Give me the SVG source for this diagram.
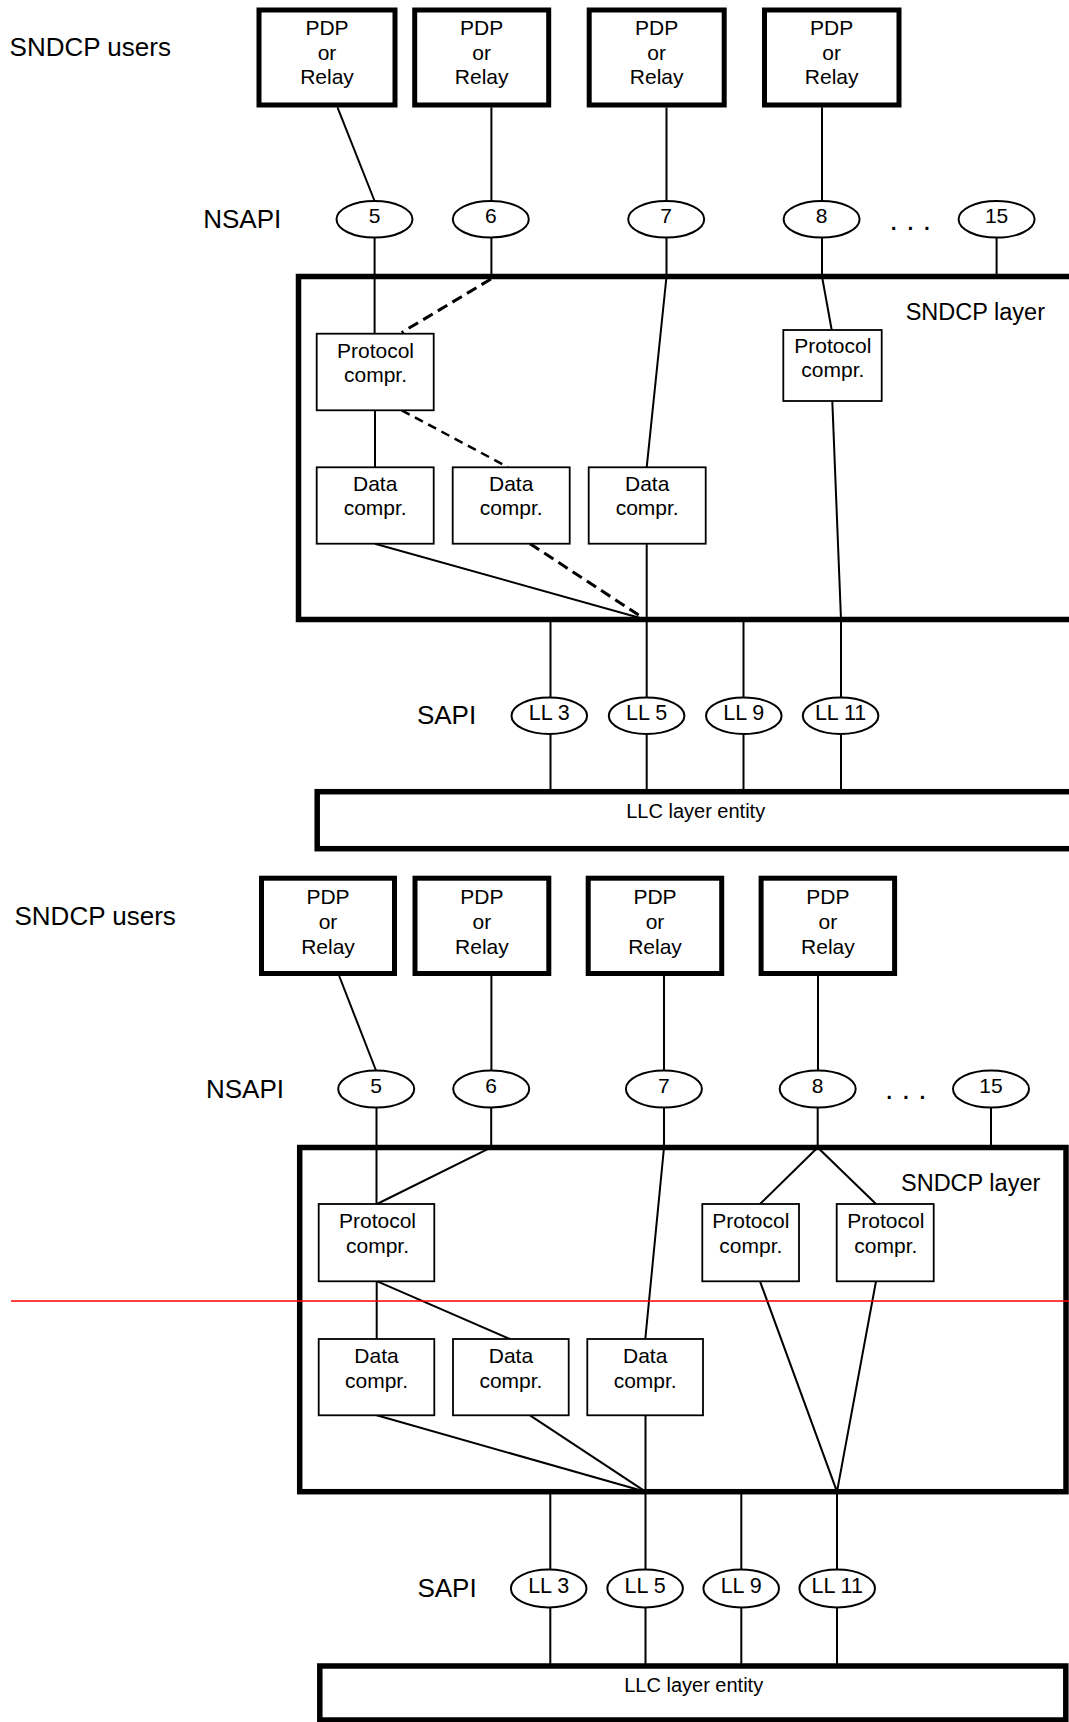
<svg xmlns="http://www.w3.org/2000/svg" width="1069" height="1722" viewBox="0 0 1069 1722">
<style>
.layer{fill:#fff;stroke:#000;stroke-width:5.5}
.pdp{fill:#fff;stroke:#000;stroke-width:5}
.box{fill:#fff;stroke:#000;stroke-width:1.8}
.ell{fill:#fff;stroke:#000;stroke-width:2}
.ln{fill:none;stroke:#000;stroke-width:2}
.dk{fill:none;stroke:#000;stroke-width:3;stroke-dasharray:11 6}
.dt{fill:none;stroke:#000;stroke-width:2.5;stroke-dasharray:9 6}
.t{font-family:"Liberation Sans",Arial,sans-serif;fill:#000}
.lab{font-size:26px}
.s21{font-size:21px;text-anchor:middle}
.s20{font-size:20px;text-anchor:middle}
.ll{font-size:21.5px;text-anchor:middle}
.dots{font-size:30px}
</style>
<rect width="1069" height="1722" fill="#fff"/>

<!-- ================= Diagram 1 ================= -->
<g id="sndcp-layer-1">
<rect class="layer" x="298.5" y="276.5" width="800" height="343"/>
<text class="t" x="905.7" y="320" font-size="23.5px">SNDCP layer</text>
</g>
<g id="llc-1">
<rect class="layer" x="317.2" y="791.7" width="800" height="57"/>
<text class="t s20" x="695.7" y="818.3">LLC layer entity</text>
</g>

<g id="connectors-1">
<line class="ln" x1="337.5" y1="107.3" x2="374.6" y2="201"/>
<line class="ln" x1="491.4" y1="107.3" x2="491.4" y2="201"/>
<line class="ln" x1="666.5" y1="107.3" x2="666.5" y2="201"/>
<line class="ln" x1="822" y1="107.3" x2="822" y2="201"/>
<line class="ln" x1="374.6" y1="237.6" x2="374.6" y2="333.7"/>
<line class="ln" x1="491.4" y1="237.6" x2="491.4" y2="276.5"/>
<polyline class="ln" points="666.5,237.6 666.5,276.5 646.7,467.3"/>
<polyline class="ln" points="822,237.6 822,276.5 831.7,330"/>
<line class="ln" x1="996.6" y1="237.6" x2="996.6" y2="276.5"/>
<line class="dk" x1="491" y1="279" x2="401.7" y2="332.5"/>
<line class="ln" x1="375" y1="410.3" x2="375" y2="467.3"/>
<line class="dt" x1="401.7" y1="410.3" x2="508.3" y2="467.3"/>
<line class="ln" x1="375" y1="543.7" x2="645.5" y2="619.5"/>
<line class="dk" x1="530" y1="543.7" x2="645.5" y2="619.5"/>
<line class="ln" x1="646.7" y1="543.7" x2="646.7" y2="697"/>
<polyline class="ln" points="832.3,401 841,619.5 841,697"/>
<line class="ln" x1="550.5" y1="619.5" x2="550.5" y2="697"/>
<line class="ln" x1="743.5" y1="619.5" x2="743.5" y2="697"/>
<line class="ln" x1="550.5" y1="734.5" x2="550.5" y2="791.7"/>
<line class="ln" x1="646.7" y1="734.5" x2="646.7" y2="791.7"/>
<line class="ln" x1="743.5" y1="734.5" x2="743.5" y2="791.7"/>
<line class="ln" x1="841" y1="734.5" x2="841" y2="791.7"/>
</g>

<g id="labels-1">
<text class="t lab" x="9.6" y="55.7">SNDCP users</text>
<text class="t lab" x="203.2" y="227.7">NSAPI</text>
<text class="t lab" x="416.9" y="724">SAPI</text>
<text class="t dots" x="889.5" y="230">. . .</text>
</g>

<g id="pdp1-1"><rect class="pdp" x="259" y="10" width="136" height="95"/>
<text class="t s21" x="327" y="35">PDP</text><text class="t s21" x="327" y="59.5">or</text><text class="t s21" x="327" y="84">Relay</text></g>
<g id="pdp2-1"><rect class="pdp" x="414.7" y="10" width="134" height="95"/>
<text class="t s21" x="481.7" y="35">PDP</text><text class="t s21" x="481.7" y="59.5">or</text><text class="t s21" x="481.7" y="84">Relay</text></g>
<g id="pdp3-1"><rect class="pdp" x="589.2" y="10" width="135" height="95"/>
<text class="t s21" x="656.7" y="35">PDP</text><text class="t s21" x="656.7" y="59.5">or</text><text class="t s21" x="656.7" y="84">Relay</text></g>
<g id="pdp4-1"><rect class="pdp" x="764.5" y="10" width="134.5" height="95"/>
<text class="t s21" x="831.7" y="35">PDP</text><text class="t s21" x="831.7" y="59.5">or</text><text class="t s21" x="831.7" y="84">Relay</text></g>

<g id="nsapi5-1"><ellipse class="ell" cx="374.5" cy="219.3" rx="38" ry="18.3"/><text class="t s21" x="374.5" y="223">5</text></g>
<g id="nsapi6-1"><ellipse class="ell" cx="490.8" cy="219.3" rx="38" ry="18.3"/><text class="t s21" x="490.8" y="223">6</text></g>
<g id="nsapi7-1"><ellipse class="ell" cx="666.2" cy="219.3" rx="38" ry="18.3"/><text class="t s21" x="666.2" y="223">7</text></g>
<g id="nsapi8-1"><ellipse class="ell" cx="821.6" cy="219.3" rx="38" ry="18.3"/><text class="t s21" x="821.6" y="223">8</text></g>
<g id="nsapi15-1"><ellipse class="ell" cx="996.6" cy="219.3" rx="38" ry="18.3"/><text class="t s21" x="996.6" y="223">15</text></g>

<g id="proto1-1"><rect class="box" x="316.7" y="333.7" width="117" height="76.6"/>
<text class="t s21" x="375.5" y="358.3">Protocol</text><text class="t s21" x="375.5" y="381.7">compr.</text></g>
<g id="proto2-1"><rect class="box" x="783.3" y="330" width="98.4" height="71"/>
<text class="t s21" x="832.8" y="353.3">Protocol</text><text class="t s21" x="832.8" y="377.3">compr.</text></g>

<g id="data1-1"><rect class="box" x="316.7" y="467.3" width="117" height="76.4"/>
<text class="t s21" x="375.2" y="490.7">Data</text><text class="t s21" x="375.2" y="515">compr.</text></g>
<g id="data2-1"><rect class="box" x="452.7" y="467.3" width="117" height="76.4"/>
<text class="t s21" x="511.2" y="490.7">Data</text><text class="t s21" x="511.2" y="515">compr.</text></g>
<g id="data3-1"><rect class="box" x="588.7" y="467.3" width="117" height="76.4"/>
<text class="t s21" x="647.2" y="490.7">Data</text><text class="t s21" x="647.2" y="515">compr.</text></g>

<g id="ll3-1"><ellipse class="ell" cx="549.3" cy="715.8" rx="37.8" ry="18.2"/><text class="t ll" x="549.3" y="720">LL 3</text></g>
<g id="ll5-1"><ellipse class="ell" cx="646.6" cy="715.8" rx="37.8" ry="18.2"/><text class="t ll" x="646.6" y="720">LL 5</text></g>
<g id="ll9-1"><ellipse class="ell" cx="743.8" cy="715.8" rx="37.8" ry="18.2"/><text class="t ll" x="743.8" y="720">LL 9</text></g>
<g id="ll11-1"><ellipse class="ell" cx="840.6" cy="715.8" rx="37.8" ry="18.2"/><text class="t ll" x="840.6" y="720">LL 11</text></g>

<!-- ================= Diagram 2 ================= -->
<g id="sndcp-layer-2">
<rect class="layer" x="299.7" y="1147.5" width="766.3" height="344.2"/>
<text class="t" x="901" y="1190.7" font-size="23.5px">SNDCP layer</text>
</g>
<g id="llc-2">
<rect class="layer" x="319.8" y="1666" width="746" height="54"/>
<text class="t s20" x="693.7" y="1691.7">LLC layer entity</text>
</g>

<g id="connectors-2">
<line class="ln" x1="339.2" y1="976" x2="376" y2="1070.5"/>
<line class="ln" x1="491.4" y1="976" x2="491.4" y2="1070.5"/>
<line class="ln" x1="664" y1="976" x2="664" y2="1070.5"/>
<line class="ln" x1="818" y1="976" x2="818" y2="1070.5"/>
<line class="ln" x1="376.5" y1="1107.5" x2="376.5" y2="1204"/>
<polyline class="ln" points="491.2,1107.5 491.2,1147.5 377,1204"/>
<polyline class="ln" points="664,1107.5 664,1147.5 645.3,1339"/>
<line class="ln" x1="817.7" y1="1107.5" x2="817.7" y2="1147.5"/>
<polyline class="ln" points="760,1204 817.7,1147.5 876,1204"/>
<line class="ln" x1="991" y1="1107.5" x2="991" y2="1147.5"/>
<line class="ln" x1="376.7" y1="1281.3" x2="376.7" y2="1339"/>
<line class="ln" x1="377.3" y1="1281.3" x2="510" y2="1339"/>
<line class="ln" x1="376.7" y1="1415.3" x2="645.5" y2="1491.7"/>
<line class="ln" x1="530" y1="1415.3" x2="645.5" y2="1491.7"/>
<line class="ln" x1="645.5" y1="1415.3" x2="645.5" y2="1570"/>
<polyline class="ln" points="760,1281.3 837,1491.7 876,1281.3"/>
<line class="ln" x1="837" y1="1491.7" x2="837" y2="1570"/>
<line class="ln" x1="550.3" y1="1491.7" x2="550.3" y2="1570"/>
<line class="ln" x1="741.3" y1="1491.7" x2="741.3" y2="1570"/>
<line class="ln" x1="550.3" y1="1607" x2="550.3" y2="1666"/>
<line class="ln" x1="645.5" y1="1607" x2="645.5" y2="1666"/>
<line class="ln" x1="741.3" y1="1607" x2="741.3" y2="1666"/>
<line class="ln" x1="837" y1="1607" x2="837" y2="1666"/>
</g>

<g id="labels-2">
<text class="t lab" x="14.5" y="925">SNDCP users</text>
<text class="t lab" x="206" y="1097.7">NSAPI</text>
<text class="t lab" x="417.4" y="1597.3">SAPI</text>
<text class="t dots" x="885" y="1099">. . .</text>
</g>

<g id="pdp1-2"><rect class="pdp" x="261.5" y="878.2" width="133" height="95.3"/>
<text class="t s21" x="328" y="904.3">PDP</text><text class="t s21" x="328" y="929.3">or</text><text class="t s21" x="328" y="954.3">Relay</text></g>
<g id="pdp2-2"><rect class="pdp" x="415" y="878.2" width="133.8" height="95.3"/>
<text class="t s21" x="481.9" y="904.3">PDP</text><text class="t s21" x="481.9" y="929.3">or</text><text class="t s21" x="481.9" y="954.3">Relay</text></g>
<g id="pdp3-2"><rect class="pdp" x="588.2" y="878.2" width="133.5" height="95.3"/>
<text class="t s21" x="655" y="904.3">PDP</text><text class="t s21" x="655" y="929.3">or</text><text class="t s21" x="655" y="954.3">Relay</text></g>
<g id="pdp4-2"><rect class="pdp" x="761.1" y="878.2" width="133.5" height="95.3"/>
<text class="t s21" x="827.9" y="904.3">PDP</text><text class="t s21" x="827.9" y="929.3">or</text><text class="t s21" x="827.9" y="954.3">Relay</text></g>

<g id="nsapi5-2"><ellipse class="ell" cx="376.2" cy="1089" rx="38" ry="18.5"/><text class="t s21" x="376.2" y="1093">5</text></g>
<g id="nsapi6-2"><ellipse class="ell" cx="491.2" cy="1089" rx="38" ry="18.5"/><text class="t s21" x="491.2" y="1093">6</text></g>
<g id="nsapi7-2"><ellipse class="ell" cx="663.9" cy="1089" rx="38" ry="18.5"/><text class="t s21" x="663.9" y="1093">7</text></g>
<g id="nsapi8-2"><ellipse class="ell" cx="817.7" cy="1089" rx="38" ry="18.5"/><text class="t s21" x="817.7" y="1093">8</text></g>
<g id="nsapi15-2"><ellipse class="ell" cx="991" cy="1089" rx="38" ry="18.5"/><text class="t s21" x="991" y="1093">15</text></g>

<g id="proto1-2"><rect class="box" x="318.7" y="1204" width="115.6" height="77.3"/>
<text class="t s21" x="377.5" y="1228.3">Protocol</text><text class="t s21" x="377.5" y="1253.3">compr.</text></g>
<g id="proto2-2"><rect class="box" x="702.3" y="1204" width="96.7" height="77.3"/>
<text class="t s21" x="750.8" y="1228.3">Protocol</text><text class="t s21" x="750.8" y="1253.3">compr.</text></g>
<g id="proto3-2"><rect class="box" x="836.7" y="1204" width="97" height="77.3"/>
<text class="t s21" x="885.8" y="1228.3">Protocol</text><text class="t s21" x="885.8" y="1253.3">compr.</text></g>

<g id="data1-2"><rect class="box" x="318.7" y="1339" width="115.6" height="76.3"/>
<text class="t s21" x="376.5" y="1362.7">Data</text><text class="t s21" x="376.5" y="1387.7">compr.</text></g>
<g id="data2-2"><rect class="box" x="453" y="1339" width="115.7" height="76.3"/>
<text class="t s21" x="510.9" y="1362.7">Data</text><text class="t s21" x="510.9" y="1387.7">compr.</text></g>
<g id="data3-2"><rect class="box" x="587.3" y="1339" width="115.7" height="76.3"/>
<text class="t s21" x="645.2" y="1362.7">Data</text><text class="t s21" x="645.2" y="1387.7">compr.</text></g>

<g id="ll3-2"><ellipse class="ell" cx="548.7" cy="1588.5" rx="37.8" ry="19"/><text class="t ll" x="548.7" y="1592.7">LL 3</text></g>
<g id="ll5-2"><ellipse class="ell" cx="645.1" cy="1588.5" rx="37.8" ry="19"/><text class="t ll" x="645.1" y="1592.7">LL 5</text></g>
<g id="ll9-2"><ellipse class="ell" cx="741.2" cy="1588.5" rx="37.8" ry="19"/><text class="t ll" x="741.2" y="1592.7">LL 9</text></g>
<g id="ll11-2"><ellipse class="ell" cx="837.2" cy="1588.5" rx="37.8" ry="19"/><text class="t ll" x="837.2" y="1592.7">LL 11</text></g>

<line id="red-line" x1="11" y1="1301" x2="1069" y2="1301" stroke="#ff0000" stroke-width="1.5"/>
</svg>
